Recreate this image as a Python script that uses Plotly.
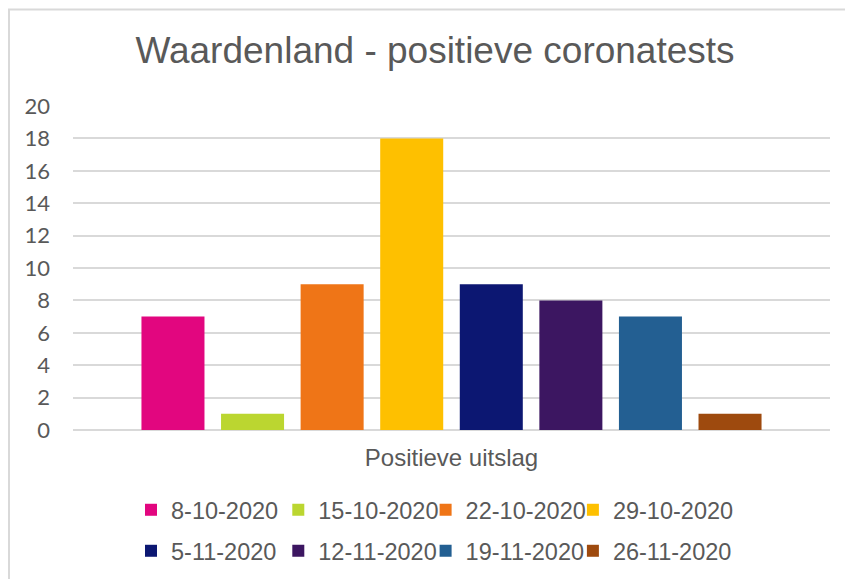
import plotly.graph_objects as go

category = ["Positieve uitslag"]
dates = ["8-10-2020", "15-10-2020", "22-10-2020", "29-10-2020",
         "5-11-2020", "12-11-2020", "19-11-2020", "26-11-2020"]
values = [7, 1, 9, 18, 9, 8, 7, 1]
colors = ["#E2067F", "#BBD630", "#EF7517", "#FEC000",
          "#0C1772", "#3C1661", "#235F92", "#9E4A0E"]

# page body has an 8px margin, so the figure starts at (8, 8) on screen
OFF = 8
W, H = 853 - OFF, 579 - OFF
ML, MR, MT, MB = 65, 23, 98, 149
PW = W - ML - MR
PH = H - MT - MB


def px_x(sx):
    return (sx - OFF - ML) / PW


def px_y(sy):
    return (H - MB - (sy - OFF)) / PH


def cx(sx):
    return (sx - OFF) / W


def cy(sy):
    return 1 - (sy - OFF) / H


text_col = "#595959"
arial = "Liberation Sans, Arial, sans-serif"
legend_font = dict(family=arial, size=23.5, color=text_col)

fig = go.Figure()
legend_layouts = {}
for i, (d, v, c) in enumerate(zip(dates, values, colors)):
    key = "legend" if i == 0 else f"legend{i + 1}"
    fig.add_trace(go.Bar(
        x=category, y=[v], name=d,
        marker=dict(color=c, line=dict(width=0)),
        legend=key,
    ))
    col, row = i % 4, i // 4
    origin_x = 131 + 147.3 * col
    center_y = 510 if row == 0 else 551
    legend_layouts[key] = dict(
        orientation="h", xref="container", yref="container",
        x=cx(origin_x), xanchor="left",
        y=cy(center_y), yanchor="middle",
        font=legend_font, bgcolor="rgba(0,0,0,0)",
    )

fig.update_layout(
    width=W, height=H,
    margin=dict(l=ML, r=MR, t=MT, b=MB),
    paper_bgcolor="white", plot_bgcolor="white",
    barmode="group", bargap=0.159, bargroupgap=0.208,
    title=dict(text="Waardenland - positieve coronatests",
               font=dict(family=arial, size=37, color=text_col),
               x=cx(435), xref="container", xanchor="center",
               y=cy(50), yref="container", yanchor="middle"),
    xaxis=dict(showgrid=False, showline=False, zeroline=False,
               ticks="", ticklabelstandoff=11, automargin=False,
               tickfont=dict(family=arial, size=24, color=text_col)),
    yaxis=dict(range=[0, 20], dtick=2, tick0=0, showgrid=True,
               gridcolor="#D9D9D9", gridwidth=1.5, automargin=False,
               zeroline=True, zerolinecolor="#D9D9D9", zerolinewidth=2,
               showline=False, ticks="", ticklabelstandoff=22,
               tickfont=dict(family="Lato, Carlito, sans-serif", size=22, color=text_col)),
    shapes=[
        dict(type="line", xref="paper", yref="paper",
             x0=px_x(8), x1=px_x(860), y0=px_y(9.5), y1=px_y(9.5),
             line=dict(color="#D9D9D9", width=2)),
        dict(type="line", xref="paper", yref="paper",
             x0=px_x(9), x1=px_x(9), y0=px_y(9), y1=px_y(590),
             line=dict(color="#D9D9D9", width=2)),
    ],
    showlegend=True,
    **legend_layouts,
)

fig.write_html("out.html")
